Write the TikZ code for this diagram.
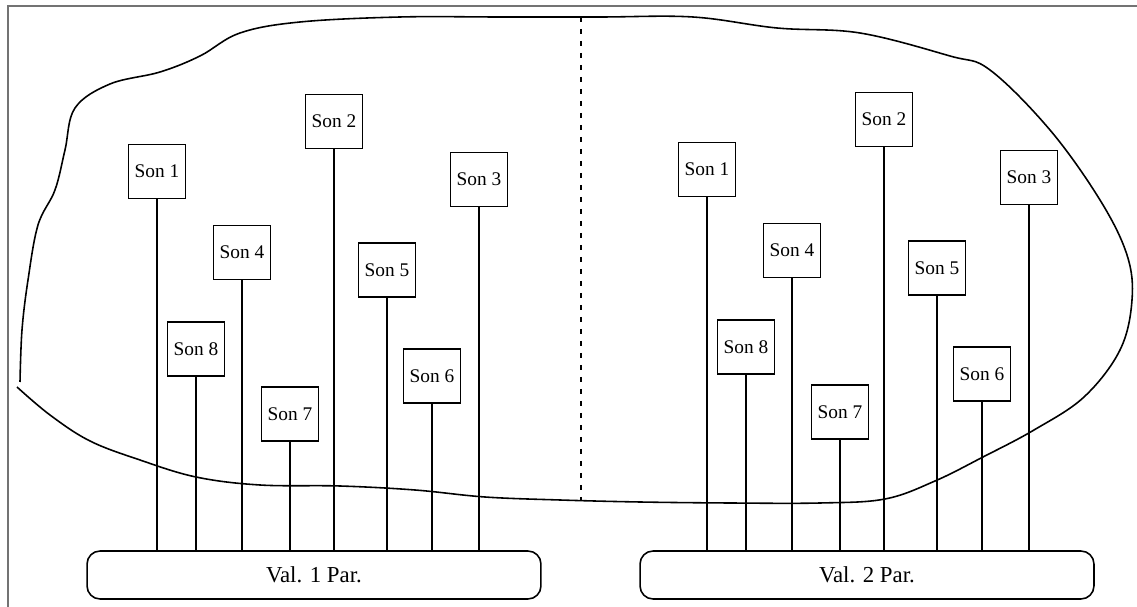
\documentclass[tikz,border=0pt]{standalone}
\usepackage{fontspec}
\setmainfont{Liberation Serif}

\def\blobpath{plot[smooth, tension=0.6] coordinates {(20,382) (22,330) (28,280) (38,225) (55,190) (65,150) (75,108) (110,84) (160,72) (200,56) (240,33) (300,22) (400,17) (500,17) (600,17) (693,17) (777,28) (860,33) (950,56) (990,70) (1050,130) (1100,200) (1127,255) (1132,300) (1120,350) (1084,397) (1034,430) (983,457) (935,481) (885,499) (820,503) (730,503) (640,502) (560,500) (485,497) (415,490) (340,486) (260,485) (196,477) (140,460) (90,441) (50,415) (17,387)}}
\colorlet{frame edge}{black!55}
\tikzset{son/.style={draw, line width=0.9pt, minimum width=1.14cm, minimum height=1.08cm, inner sep=0pt, font=\fontsize{11}{13}\selectfont},
    par/.style={draw, line width=0.9pt, rounded corners=0.26cm, minimum width=9.08cm, minimum height=0.96cm, inner sep=0pt, font=\fontsize{13}{15}\selectfont},
    stem/.style={line width=0.9pt},
    outline/.style={line width=0.9pt}}

\begin{document}
\begin{tikzpicture}[x=0.02cm, y=-0.02cm]
	\useasboundingbox (0,0) rectangle (1137,607);

	% frame
	\draw[frame edge, line width=0.9pt] (8,607) |- (1137,6);

	% the region and its split
	\draw[outline] \blobpath;
	\coordinate (dtop) at (581,17);
	\coordinate (dbot) at (581,501);
	\draw[outline, dash pattern=on 0.1cm off 0.14cm] (dtop) -- (dbot);

	\node[par] (parl) at (314,575) {Val. 1 Par.};
	\node[par] (parr) at (867,575) {Val. 2 Par.};

	\foreach \side/\dx/\dy in {l/0/0, r/550/-2} {
		\foreach \i/\x/\y in {1/157/171.5, 2/334/121.5, 3/479/179.5, 4/242/252.5, 5/387/270, 6/432/376, 7/290/414, 8/196/349} {
			\node[son] (\side\i) at (\x+\dx,\y+\dy) {Son \i};
			\draw[stem] (\side\i.south) -- (\side\i.south |- par\side.north);
		}
	}

\end{tikzpicture}
\end{document}
